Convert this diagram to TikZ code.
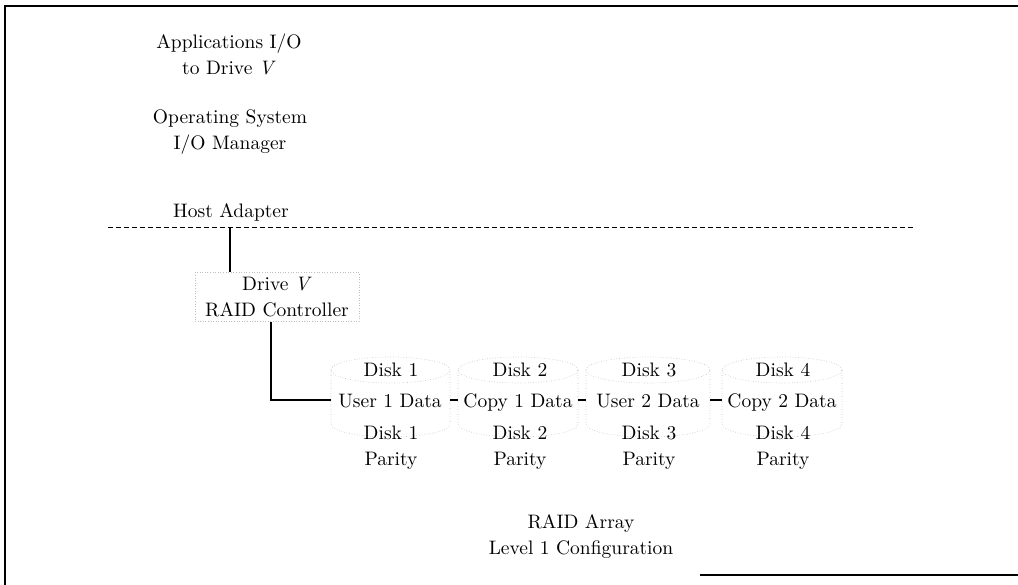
\documentclass[tikz,border=0pt]{standalone}
\usepackage{fontspec}
\setmainfont{lmroman10-regular.otf}[ItalicFont=lmroman10-italic.otf]
\begin{document}
\begin{tikzpicture}[x=1pt,y=1pt,
  lbl/.style={font=\fontsize{19.5}{26}\selectfont, align=center, inner sep=0pt},
  framestroke/.style={line width=1.8pt},
  conn/.style={line width=2pt},
  faint/.style={black!25, dotted, line width=0.6pt},
  sepline/.style={line width=0.8pt, dash pattern=on 5pt off 3pt}]
\useasboundingbox (0,0) rectangle (1018,-585);

% outer frame (left, top and lower right)
\draw[framestroke] (5,-585) -- (5,-6) -- (1018,-6);
\draw[framestroke] (700,-575) -- (1018,-575);

% host side layers (base anchor = baseline of the last line)
\node[lbl, anchor=base] (app) at (229,-75) {Applications I/O\\to Drive \textit{V}};
\node[lbl, anchor=base] (os) at (230,-150) {Operating System\\I/O Manager};
\node[lbl, anchor=base] (host) at (231,-218) {Host Adapter};
\draw[sepline] (108,-227) -- (915,-227);

% RAID controller
\node[lbl, draw=black!25, dotted, line width=0.6pt, minimum width=164pt, minimum height=49pt]
  (ctrl) at (277,-297) {Drive \textit{V}\\RAID Controller};
\coordinate (hs) at (230,-227);
\draw[conn] (hs) -- (hs |- ctrl.north);

% disk cylinders
\foreach \n/\l/\r in {1/331/450,2/458/578,3/586/710,4/722/842}{
  \pgfmathsetmacro{\cylx}{(\l+\r)/2}
  \pgfmathsetmacro{\cylr}{(\r-\l)/2}
  \draw[faint] (\cylx,-370) ellipse [x radius=\cylr, y radius=13];
  \draw[faint] (\l,-370) -- (\l,-424)
    arc [start angle=180, end angle=360, x radius=\cylr, y radius=13] -- (\r,-370);
  \coordinate (d\n l) at (\l,-400);
  \coordinate (d\n r) at (\r,-400);
}

% disk labels
\node[lbl, anchor=base] (t1) at (391,-377) {Disk 1};
\node[lbl, anchor=base] (u1) at (390,-407) {User 1 Data};
\node[lbl, anchor=base] (p1) at (391,-465) {Disk 1\\Parity};

\node[lbl, anchor=base] (t2) at (520,-377) {Disk 2};
\node[lbl, anchor=base] (u2) at (518,-407) {Copy 1 Data};
\node[lbl, anchor=base] (p2) at (520,-465) {Disk 2\\Parity};

\node[lbl, anchor=base] (t3) at (649,-377) {Disk 3};
\node[lbl, anchor=base] (u3) at (648,-407) {User 2 Data};
\node[lbl, anchor=base] (p3) at (649,-465) {Disk 3\\Parity};

\node[lbl, anchor=base] (t4) at (783,-377) {Disk 4};
\node[lbl, anchor=base] (u4) at (782,-407) {Copy 2 Data};
\node[lbl, anchor=base] (p4) at (783,-465) {Disk 4\\Parity};

% controller to array, and links between disks
\coordinate (cl) at (271,-400);
\draw[conn] (cl |- ctrl.south) -- (cl) -- (d1l);
\draw[conn] (d1r) -- (d2l);
\draw[conn] (d2r) -- (d3l);
\draw[conn] (d3r) -- (d4l);

% caption
\node[lbl, anchor=base] (cap) at (581,-554) {RAID Array\\Level 1 Configuration};
\end{tikzpicture}
\end{document}
